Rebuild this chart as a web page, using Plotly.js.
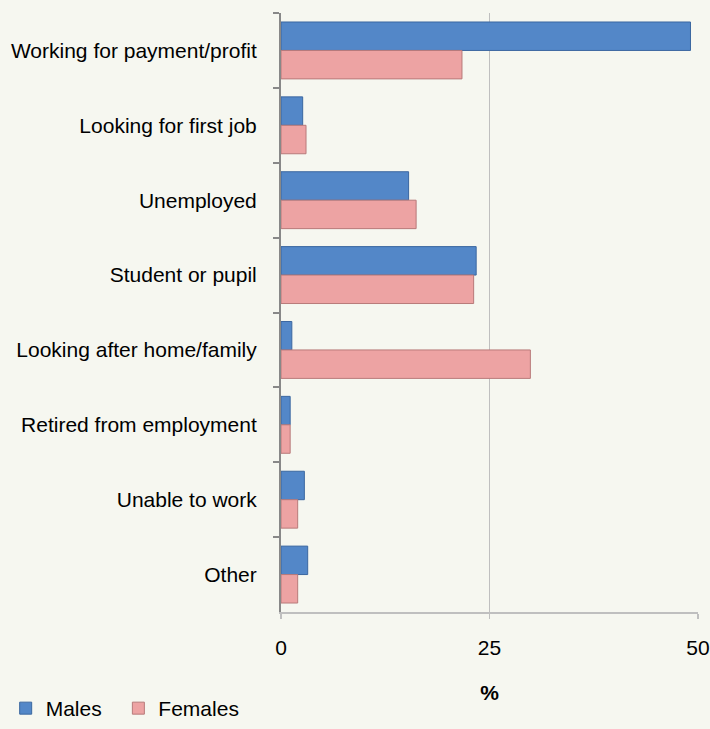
<!DOCTYPE html>
<html>
<head>
<meta charset="utf-8">
<script src="https://cdn.plot.ly/plotly-3.0.1.min.js"></script>
<style>
  html, body { margin: 0; padding: 0; background: #F6F7F0; }
  #chart { width: 710px; height: 729px; }
</style>
</head>
<body>
<div id="chart"></div>
<script>
const categories = [
  "Working for payment/profit",
  "Looking for first job",
  "Unemployed",
  "Student or pupil",
  "Looking after home/family",
  "Retired from employment",
  "Unable to work",
  "Other"
];
const males   = [49.1, 2.6, 15.3, 23.4, 1.3, 1.1, 2.8, 3.2];
const females = [21.7, 3.0, 16.2, 23.1, 29.9, 1.1, 2.0, 2.0];
const xTicks = [0, 25, 50];
const xTickLabels = ["0", "25", "50"];
const seriesNames = ["Males", "Females"];

const font = "Liberation Sans, Arial, sans-serif";

const traces = [
  {
    type: "bar", orientation: "h", name: seriesNames[0] + "\u00a0\u00a0",
    y: categories, x: males,
    marker: { color: "#5387C8", line: { color: "#3B67A0", width: 1 } },
    hoverinfo: "x+y"
  },
  {
    type: "bar", orientation: "h", name: seriesNames[1],
    y: categories, x: females,
    marker: { color: "#EDA3A3", line: { color: "#B87A7A", width: 1 } },
    hoverinfo: "x+y"
  }
];

const layout = {
  width: 710, height: 729,
  paper_bgcolor: "#F6F7F0",
  plot_bgcolor: "#F6F7F0",
  font: { family: font, size: 21, color: "#000000" },
  margin: { l: 281, r: 12, t: 13, b: 117, pad: 0 },
  barmode: "group",
  bargap: 0.24,
  bargroupgap: 0,
  showlegend: true,
  legend: {
    orientation: "h",
    xref: "container", yref: "paper",
    x: 0.008, y: -0.192, xanchor: "left", yanchor: "middle",
    font: { family: font, size: 21, color: "#000" },
    bgcolor: "rgba(0,0,0,0)",
    itemwidth: 30,
    traceorder: "normal"
  },
  xaxis: {
    range: [0, 50],
    tickvals: xTicks, ticktext: xTickLabels,
    showgrid: true, gridcolor: "#BFBFBF", gridwidth: 1.5,
    showline: true, linecolor: "#BFBFBF", linewidth: 2,
    ticks: "outside", ticklen: 5, tickcolor: "#BFBFBF", tickwidth: 1.5,
    ticklabelstandoff: 11,
    zeroline: false,
    tickfont: { family: font, size: 21, color: "#000" },
    title: { text: "<b>%</b>", font: { family: font, size: 21, color: "#000" }, standoff: 27 },
    fixedrange: true
  },
  yaxis: {
    type: "category",
    autorange: "reversed",
    showgrid: false,
    showline: true, linecolor: "#888888", linewidth: 2,
    ticks: "outside", ticklen: 6, tickcolor: "#888888", tickwidth: 2,
    tickson: "boundaries",
    ticklabelstandoff: 18,
    tickfont: { family: font, size: 21, color: "#000" },
    zeroline: false,
    fixedrange: true
  }
};

Plotly.newPlot("chart", traces, layout, { displayModeBar: false, staticPlot: true });
</script>
</body>
</html>
